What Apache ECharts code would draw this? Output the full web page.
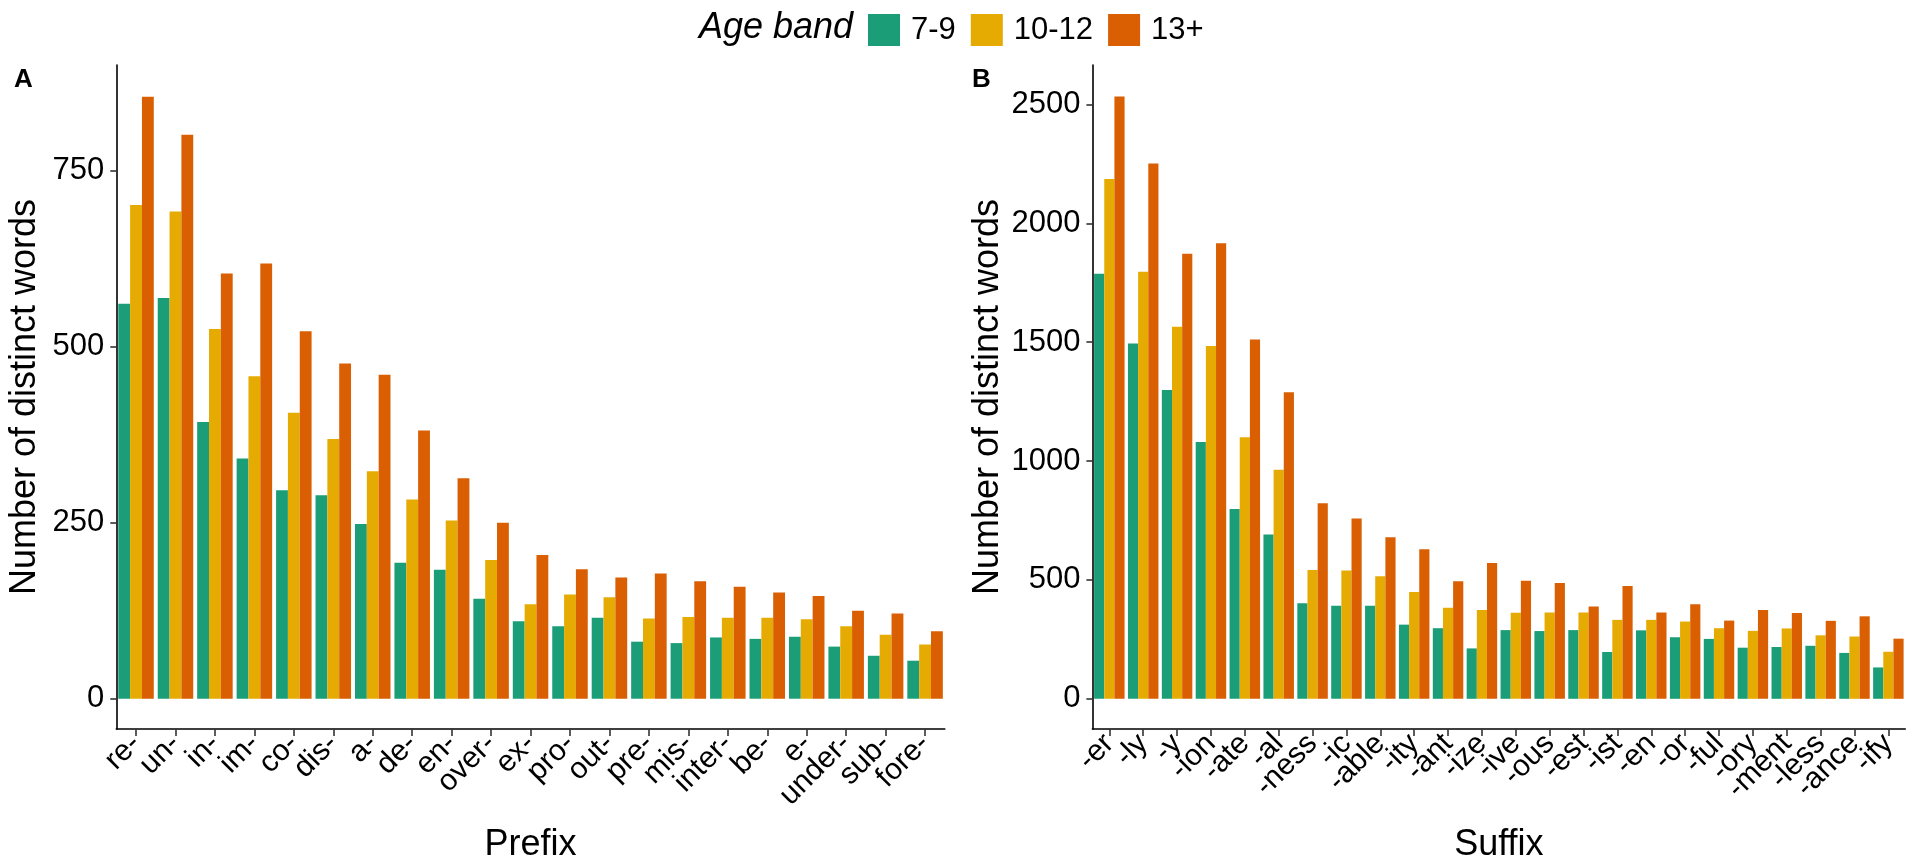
<!DOCTYPE html>
<html>
<head>
<meta charset="utf-8">
<script src="https://cdn.jsdelivr.net/npm/echarts@6/dist/echarts.min.js"></script>
<style>
html,body{margin:0;padding:0;background:#fff;}
#chart{width:1907px;height:868px;}
</style>
</head>
<body>
<div id="chart"></div>
<script>
const ageBands = ['7-9', '10-12', '13+'];
const bandColors = ['#1B9E77', '#E6AB02', '#D95F02'];

const prefixes = ['re-','un-','in-','im-','co-','dis-','a-','de-','en-','over-','ex-','pro-','out-','pre-','mis-','inter-','be-','e-','under-','sub-','fore-'];
const prefix7to9 = [561, 569, 393, 341, 296, 289, 248, 193, 183, 142, 110, 103, 115, 81, 79, 87, 85, 88, 74, 61, 54];
const prefix10to12 = [701, 692, 525, 458, 406, 369, 323, 283, 253, 197, 134, 148, 144, 114, 116, 115, 115, 113, 103, 91, 77];
const prefix13plus = [855, 801, 604, 618, 522, 476, 460, 381, 313, 250, 204, 184, 172, 178, 167, 159, 151, 146, 125, 121, 96];

const suffixes = ['-er','-ly','-y','-ion','-ate','-al','-ness','-ic','-able','-ity','-ant','-ize','-ive','-ous','-est','-ist','-en','-or','-ful','-ory','-ment','-less','-ance','-ify'];
const suffix7to9 = [1788, 1495, 1299, 1080, 798, 691, 402, 391, 391, 312, 297, 212, 289, 285, 289, 197, 288, 259, 252, 215, 218, 223, 193, 132];
const suffix10to12 = [2186, 1796, 1565, 1484, 1100, 964, 542, 540, 516, 449, 383, 374, 362, 363, 363, 332, 332, 325, 297, 286, 296, 267, 262, 198];
const suffix13plus = [2534, 2252, 1872, 1916, 1511, 1290, 823, 758, 680, 629, 494, 571, 497, 487, 388, 475, 363, 398, 329, 374, 361, 328, 347, 253];

const prefixTicks = [0, 250, 500, 750];
const suffixTicks = [0, 500, 1000, 1500, 2000, 2500];

const FONT = "'Liberation Sans', Arial, sans-serif";
const chart = echarts.init(document.getElementById('chart'), null, {renderer: 'canvas'});

function xAxisDef(gridIndex, cats, name) {
  return {
    type: 'category', gridIndex: gridIndex, data: cats,
    name: name, nameLocation: 'middle', nameGap: 98,
    nameTextStyle: {fontFamily: FONT, fontSize: 36, color: '#000'},
    axisLine: {show: true, onZero: false, lineStyle: {color: '#000', width: 1.6}},
    axisTick: {show: true, alignWithLabel: true, length: 7, lineStyle: {color: '#333', width: 1.6}},
    axisLabel: {rotate: 45, interval: 0, margin: 10, fontFamily: FONT, fontSize: 30, color: '#000'},
    splitLine: {show: false}
  };
}
function yAxisDef(gridIndex, ticks, min, max, gap) {
  return {
    type: 'value', gridIndex: gridIndex, min: min, max: max,
    name: 'Number of distinct words', nameLocation: 'middle', nameRotate: 90, nameGap: gap,
    nameTextStyle: {fontFamily: FONT, fontSize: 36, color: '#000'},
    axisLine: {show: true, lineStyle: {color: '#000', width: 1.6}},
    axisTick: {show: true, length: 6, customValues: ticks, lineStyle: {color: '#333', width: 1.6}},
    axisLabel: {customValues: ticks, margin: 12, fontFamily: FONT, fontSize: 31, color: '#000',
                formatter: function (v) { return String(v); }},
    splitLine: {show: false}
  };
}
function barSeries(name, color, xi, yi, data) {
  return {
    type: 'bar', name: name, xAxisIndex: xi, yAxisIndex: yi, data: data,
    barGap: '0%', barCategoryGap: '10%',
    itemStyle: {color: color}, emphasis: {disabled: true}, animation: false
  };
}

const option = {
  backgroundColor: '#fff',
  animation: false,
  title: [
    {text: 'A', left: 9, top: 62, textStyle: {fontFamily: FONT, fontSize: 26, fontWeight: 'bold', color: '#000'}},
    {text: 'B', left: 967, top: 62, textStyle: {fontFamily: FONT, fontSize: 26, fontWeight: 'bold', color: '#000'}},
    {text: 'Age band', left: 694, top: 5, textStyle: {fontFamily: FONT, fontSize: 36, fontStyle: 'italic', fontWeight: 'normal', color: '#000'}}
  ],
  legend: {
    data: ageBands, left: 863, top: 9, itemWidth: 32, itemHeight: 32, itemGap: 15,
    icon: 'rect',
    textStyle: {fontFamily: FONT, fontSize: 31, color: '#000', padding: [0, 0, 0, 6]}
  },
  grid: [
    {left: 116.3, top: 65, width: 828.5, height: 668, containLabel: false},
    {left: 1092.4, top: 65, width: 812.9, height: 676, containLabel: false}
  ],
  xAxis: [xAxisDef(0, prefixes, 'Prefix'), xAxisDef(1, suffixes, 'Suffix')],
  yAxis: [yAxisDef(0, prefixTicks, -43, 900, 73), yAxisDef(1, suffixTicks, -127, 2666, 86)],
  series: [
    barSeries(ageBands[0], bandColors[0], 0, 0, prefix7to9),
    barSeries(ageBands[1], bandColors[1], 0, 0, prefix10to12),
    barSeries(ageBands[2], bandColors[2], 0, 0, prefix13plus),
    barSeries(ageBands[0], bandColors[0], 1, 1, suffix7to9),
    barSeries(ageBands[1], bandColors[1], 1, 1, suffix10to12),
    barSeries(ageBands[2], bandColors[2], 1, 1, suffix13plus)
  ]
};
chart.setOption(option);
</script>
</body>
</html>
